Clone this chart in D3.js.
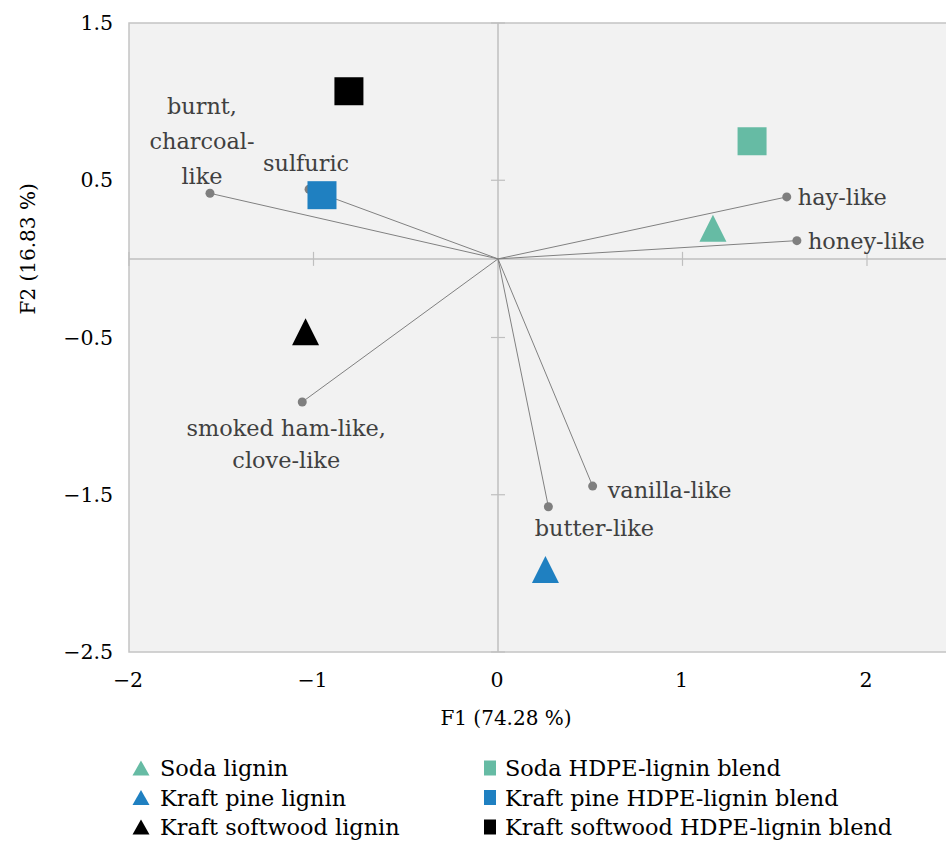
<!DOCTYPE html>
<html>
<head>
<meta charset="utf-8">
<script src="https://cdn.jsdelivr.net/npm/d3@7"></script>
<style>
  html, body { margin: 0; padding: 0; background: #ffffff; }
  svg { display: block; }
  text { font-family: "DejaVu Serif", "Liberation Serif", serif; }
</style>
</head>
<body>
<svg id="chart" width="946" height="841"></svg>
<script>
// Observations (factor scores on F1/F2)
const sampleNames = ["Soda lignin", "Kraft pine lignin", "Kraft softwood lignin",
                     "Soda HDPE-lignin blend", "Kraft pine HDPE-lignin blend", "Kraft softwood HDPE-lignin blend"];
const sampleF1 = [1.165, 0.257, -1.043, 1.377, -0.954, -0.808];
const sampleF2 = [0.195, -1.975, -0.464, 0.748, 0.405, 1.066];
const sampleShapes = ["triangle", "triangle", "triangle", "square", "square", "square"];
const sampleColors = ["#66bba4", "#1f80c1", "#000000", "#66bba4", "#1f80c1", "#000000"];

// Odor attribute loadings (variables)
const odorNames = [["burnt,", "charcoal-", "like"], ["sulfuric"], ["hay-like"], ["honey-like"],
                   ["smoked ham-like,", "clove-like"], ["vanilla-like"], ["butter-like"]];
const odorF1 = [-1.561, -1.024, 1.565, 1.620, -1.061, 0.513, 0.273];
const odorF2 = [0.417, 0.443, 0.394, 0.116, -0.910, -1.445, -1.576];

// Axes
const xTicks = [-2, -1, 0, 1, 2];
const yTicks = [-2.5, -1.5, -0.5, 0.5, 1.5];
const xTitle = "F1 (74.28 %)";
const yTitle = "F2 (16.83 %)";

const svg = d3.select("#chart");
const W = 946;

const x = d3.scaleLinear().domain([-2, 2]).range([129, 867]);
const y = d3.scaleLinear().domain([-2.5, 1.5]).range([652, 23]);

const fmt = v => d3.format("")(v).replace("-", "\u2212");

// plot background and frame
svg.append("rect")
  .attr("x", x(-2)).attr("y", y(1.5))
  .attr("width", W + 10 - x(-2)).attr("height", y(-2.5) - y(1.5))
  .attr("fill", "#f2f2f2")
  .attr("stroke", "#c4c4c4").attr("stroke-width", 1.5);

// zero axes with crossing ticks
const g = svg.append("g");
g.append("line")
  .attr("x1", x(-2)).attr("x2", W)
  .attr("y1", y(0)).attr("y2", y(0))
  .attr("stroke", "#bfbfbf").attr("stroke-width", 1.5);
g.append("line")
  .attr("x1", x(0)).attr("x2", x(0))
  .attr("y1", y(1.5)).attr("y2", y(-2.5))
  .attr("stroke", "#bfbfbf").attr("stroke-width", 1.5);

g.selectAll("line.xt").data(xTicks.filter(d => d !== 0)).join("line")
  .attr("class", "xt")
  .attr("x1", d => x(d)).attr("x2", d => x(d))
  .attr("y1", y(0) - 7).attr("y2", y(0) + 7)
  .attr("stroke", "#bfbfbf").attr("stroke-width", 1.2);
g.selectAll("line.yt").data(yTicks).join("line")
  .attr("class", "yt")
  .attr("x1", x(0) - 7).attr("x2", x(0) + 7)
  .attr("y1", d => y(d)).attr("y2", d => y(d))
  .attr("stroke", "#bfbfbf").attr("stroke-width", 1.2);

// tick labels
svg.selectAll("text.xl").data(xTicks).join("text")
  .attr("class", "xl")
  .attr("x", d => x(d) - 1).attr("y", 680)
  .attr("text-anchor", "middle").attr("dominant-baseline", "central")
  .attr("font-size", 20.5).attr("fill", "#000")
  .text(fmt);
svg.selectAll("text.yl").data(yTicks).join("text")
  .attr("class", "yl")
  .attr("x", 113).attr("y", d => y(d))
  .attr("text-anchor", "end").attr("dominant-baseline", "central")
  .attr("font-size", 20.5).attr("fill", "#000")
  .text(fmt);

// axis titles
svg.append("text")
  .attr("x", 506).attr("y", 718)
  .attr("text-anchor", "middle").attr("dominant-baseline", "central")
  .attr("font-size", 20).attr("fill", "#000")
  .text(xTitle);
svg.append("text")
  .attr("transform", `translate(28,${y(0) - 10}) rotate(-90)`)
  .attr("text-anchor", "middle").attr("dominant-baseline", "central")
  .attr("font-size", 20).attr("fill", "#000")
  .text(yTitle);

// loading vectors
const odors = odorNames.map((n, i) => ({ lines: n, f1: odorF1[i], f2: odorF2[i] }));
svg.selectAll("line.vec").data(odors).join("line")
  .attr("class", "vec")
  .attr("x1", x(0)).attr("y1", y(0))
  .attr("x2", d => x(d.f1)).attr("y2", d => y(d.f2))
  .attr("stroke", "#808080").attr("stroke-width", 1);
svg.selectAll("circle.vec").data(odors).join("circle")
  .attr("class", "vec")
  .attr("cx", d => x(d.f1)).attr("cy", d => y(d.f2))
  .attr("r", 4.5).attr("fill", "#7f7f7f");

// label placement offsets relative to each vector tip
const labelPos = [
  { dx: -8, dy: -87, anchor: "middle", lh: 35 },
  { dx: -3, dy: -26, anchor: "middle", lh: 33 },
  { dx: 11, dy: 0, anchor: "start", lh: 33 },
  { dx: 11, dy: 0, anchor: "start", lh: 33 },
  { dx: -16, dy: 26, anchor: "middle", lh: 32 },
  { dx: 15, dy: 4, anchor: "start", lh: 33 },
  { dx: 46, dy: 21, anchor: "middle", lh: 33 }
];
odors.forEach((d, i) => {
  const p = labelPos[i];
  const t = svg.append("text")
    .attr("x", x(d.f1) + p.dx)
    .attr("y", y(d.f2) + p.dy)
    .attr("text-anchor", p.anchor)
    .attr("font-size", 22.4).attr("fill", "#404040");
  d.lines.forEach((ln, k) => {
    t.append("tspan")
      .attr("x", x(d.f1) + p.dx)
      .attr("dy", k === 0 ? 0 : p.lh)
      .attr("dominant-baseline", "central")
      .text(ln);
  });
});

// sample markers
function markerPath(shape, w, h) {
  const p = d3.path();
  if (shape === "triangle") {
    p.moveTo(0, -h / 2); p.lineTo(w / 2, h / 2); p.lineTo(-w / 2, h / 2); p.closePath();
  } else {
    p.rect(-w / 2, -h / 2, w, h);
  }
  return p.toString();
}
const samples = sampleNames.map((n, i) => ({
  name: n, f1: sampleF1[i], f2: sampleF2[i], shape: sampleShapes[i], color: sampleColors[i]
}));
svg.selectAll("path.pt").data(samples).join("path")
  .attr("class", "pt")
  .attr("transform", d => `translate(${x(d.f1)},${y(d.f2)})`)
  .attr("d", d => d.shape === "triangle" ? markerPath("triangle", 27, 27) : markerPath("square", 29, 28))
  .attr("fill", d => d.color);

// legend: triangles in the first column, squares in the second
const legend = svg.append("g");
samples.forEach((d, i) => {
  const col = i < 3 ? 0 : 1;
  const row = i % 3;
  const lx = col === 0 ? 141 : 490;
  const ly = 768 + row * 29.5;
  legend.append("path")
    .attr("transform", `translate(${lx},${ly})`)
    .attr("d", d.shape === "triangle" ? markerPath("triangle", 17, 15) : markerPath("square", 12, 15))
    .attr("fill", d.color);
  legend.append("text")
    .attr("x", lx + (col === 0 ? 19 : 15)).attr("y", ly)
    .attr("dominant-baseline", "central")
    .attr("font-size", 22.4).attr("fill", "#000")
    .text(d.name);
});
</script>
</body>
</html>
